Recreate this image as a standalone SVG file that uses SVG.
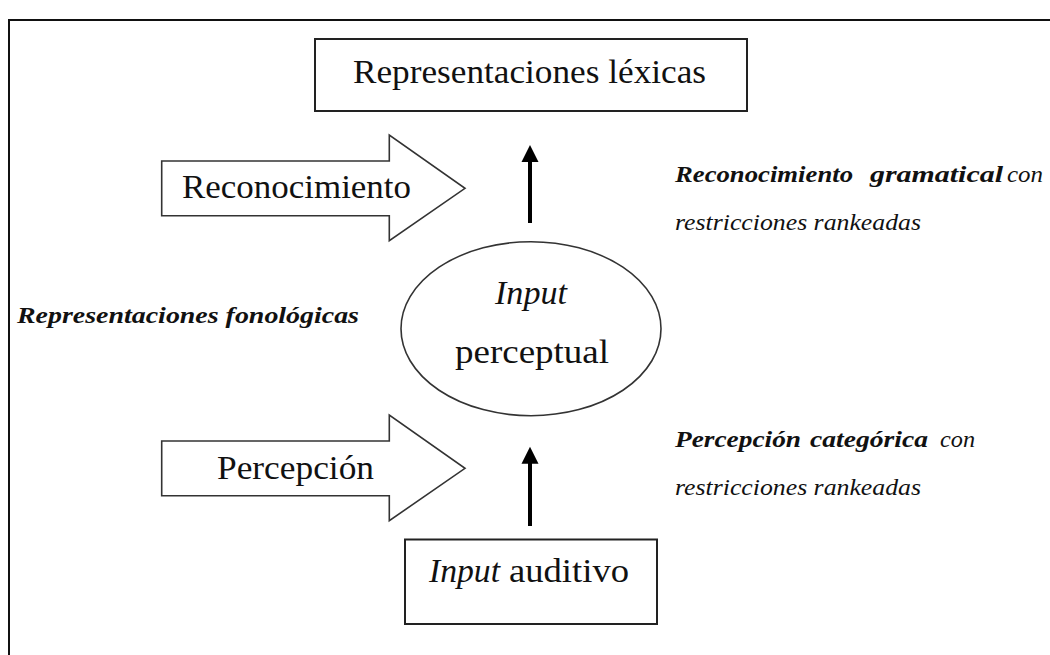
<svg xmlns="http://www.w3.org/2000/svg" width="1050" height="655" viewBox="0 0 1050 655">
<style>
.t{font-family:"Liberation Serif","Times New Roman",serif;fill:#111;}
.big{font-size:33px;}
.sm{font-size:24px;}
.it{font-style:italic;}
.bi{font-style:italic;font-weight:bold;}
.box{fill:#fff;stroke:#222;stroke-width:2;}
.blk{fill:#fff;stroke:#333;stroke-width:1.6;stroke-linejoin:miter;}
.conn{stroke:#000;stroke-width:4;fill:none;}
.head{fill:#000;}
</style>
<rect width="1050" height="655" fill="#fff"/>
<path d="M9,655 V20 H1050" fill="none" stroke="#111" stroke-width="2"/>

<g id="lexicas">
<rect class="box" x="315" y="39" width="432" height="72"/>
<text class="t big" x="353" y="83" textLength="353" lengthAdjust="spacingAndGlyphs">Representaciones léxicas</text>
</g>

<g id="reconocimiento">
<polygon class="blk" points="161.7,161 389.3,161 389.3,135 465,188.3 389.3,240.7 389.3,215.7 161.7,215.7"/>
<text class="t big" x="182" y="198" textLength="229" lengthAdjust="spacingAndGlyphs">Reconocimiento</text>
</g>

<g id="input-perceptual">
<ellipse cx="531" cy="328.7" rx="130" ry="87" fill="#fff" stroke="#333" stroke-width="1.6"/>
<text class="t big it" x="495" y="304" textLength="72" lengthAdjust="spacingAndGlyphs">Input</text>
<text class="t big" x="455" y="363" textLength="154" lengthAdjust="spacingAndGlyphs">perceptual</text>
</g>

<g id="percepcion">
<polygon class="blk" points="161.7,441 389.3,441 389.3,415 465,468.3 389.3,520.7 389.3,495.7 161.7,495.7"/>
<text class="t big" x="217" y="479" textLength="157" lengthAdjust="spacingAndGlyphs">Percepción</text>
</g>

<g id="input-auditivo">
<rect class="box" x="405" y="539.5" width="252" height="84.5"/>
<text class="t big it" x="429" y="582" textLength="71" lengthAdjust="spacingAndGlyphs">Input</text>
<text class="t big" x="509" y="582" textLength="120" lengthAdjust="spacingAndGlyphs">auditivo</text>
</g>

<g id="rep-fonologicas">
<text class="t sm bi" x="17" y="323" textLength="342" lengthAdjust="spacingAndGlyphs">Representaciones fonológicas</text>
</g>

<g id="rec-gramatical">
<text class="t sm bi" x="675" y="182" textLength="178" lengthAdjust="spacingAndGlyphs">Reconocimiento</text>
<text class="t sm bi" x="870" y="182" textLength="133" lengthAdjust="spacingAndGlyphs">gramatical</text>
<text class="t sm it" x="1007" y="182" textLength="36" lengthAdjust="spacingAndGlyphs">con</text>
<text class="t sm it" x="675" y="230" textLength="246" lengthAdjust="spacingAndGlyphs">restricciones rankeadas</text>
</g>

<g id="perc-categorica">
<text class="t sm bi" x="675" y="447" textLength="126" lengthAdjust="spacingAndGlyphs">Percepción</text>
<text class="t sm bi" x="810" y="447" textLength="118" lengthAdjust="spacingAndGlyphs">categórica</text>
<text class="t sm it" x="940" y="447" textLength="35" lengthAdjust="spacingAndGlyphs">con</text>
<text class="t sm it" x="675" y="495" textLength="246" lengthAdjust="spacingAndGlyphs">restricciones rankeadas</text>
</g>

<g id="connectors">
<line class="conn" x1="530" y1="223" x2="530" y2="160"/>
<polygon class="head" points="530,145 521.5,162 538.5,162"/>
<line class="conn" x1="530" y1="526" x2="530" y2="462"/>
<polygon class="head" points="530,446.7 521.5,463.7 538.5,463.7"/>
</g>
</svg>
